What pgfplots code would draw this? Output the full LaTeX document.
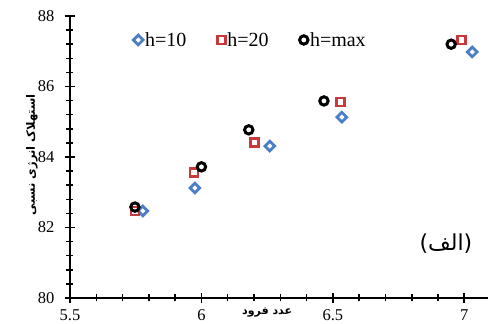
\documentclass[border=0pt]{standalone}
\usepackage{pgfplots}
\pgfplotsset{compat=1.18}
\usepackage{fontspec}
\setmainfont{Liberation Serif}
\newfontfamily\arabicfont[Script=Arabic]{DejaVu Sans}
\TeXXeTstate=1
\definecolor{cblue}{HTML}{4A7EC7}
\definecolor{cred}{HTML}{C8393B}
\begin{document}
\begin{tikzpicture}
\begin{axis}[
  name=ax,
  scale only axis,
  width=418pt, height=282pt,
  xmin=5.5, xmax=7.09, ymin=80, ymax=88,
  axis x line*=bottom, axis y line*=left,
  axis line style={black, line width=1.6pt, -},
  xtick={5.5,6,6.5,7}, xticklabels={5.5,6,6.5,7},
  ytick={80,82,84,86,88},
  minor x tick num=4, minor y tick num=4,
  tick align=center,
  major tick length=10pt, minor tick length=7pt,
  major tick style={black, line width=1.8pt},
  minor tick style={black, line width=1.5pt},
  ticklabel style={font=\fontsize{16.5}{18}\selectfont},
  /pgf/number format/assume math mode=true,
  xticklabel style={yshift=-3pt},
  yticklabel style={xshift=-7pt},
  legend columns=3,
  legend style={draw=none, fill=none, at={(0.432,0.915)}, anchor=center,
    font=\fontsize{20}{22}\selectfont, /tikz/every even column/.append style={column sep=29pt}},
  legend cell align=left,
  legend image code/.code={\draw[#1] (0pt,0pt) plot coordinates {(0pt,0pt)};},
  clip=false,
]
\addplot[only marks, mark=square, mark size=3.4pt, line width=2.8pt, mark options={line width=2.8pt, draw=cblue, rotate=45}]
 coordinates {(5.777,82.47) (5.975,83.12) (6.26,84.31) (6.534,85.13) (7.03,86.98)};
\addlegendentry{h=10}
\addplot[only marks, mark=square, mark size=4pt, line width=2.8pt, mark options={line width=2.8pt, draw=cred}]
 coordinates {(5.747,82.47) (5.972,83.55) (6.203,84.40) (6.53,85.56) (6.99,87.32)};
\addlegendentry{h=20}
\addplot[only marks, mark=o, mark size=4.2pt, line width=3pt, mark options={line width=3pt, draw=black}]
 coordinates {(5.747,82.58) (6.0,83.72) (6.18,84.77) (6.466,85.59) (6.95,87.20)};
\addlegendentry{h=max}
\node[font=\arabicfont\bfseries\fontsize{11}{13}\selectfont] at (axis cs:6.25,79.6) {\beginR عدد فرود\endR};
\node[font=\fontsize{22}{24}\selectfont] at (axis cs:6.93,81.55) {\arabicfont\beginR(الف)\endR};
\node[rotate=90, font=\arabicfont\bfseries\fontsize{11.5}{13}\selectfont] at (axis cs:5.355,84.06) {\beginR استهلاک انرژی نسبی\endR};
\end{axis}
\pgfresetboundingbox
\path ([shift={(-70pt,-26pt)}]ax.south west) rectangle ([shift={(0pt,16pt)}]ax.north east);
\end{tikzpicture}
\end{document}
